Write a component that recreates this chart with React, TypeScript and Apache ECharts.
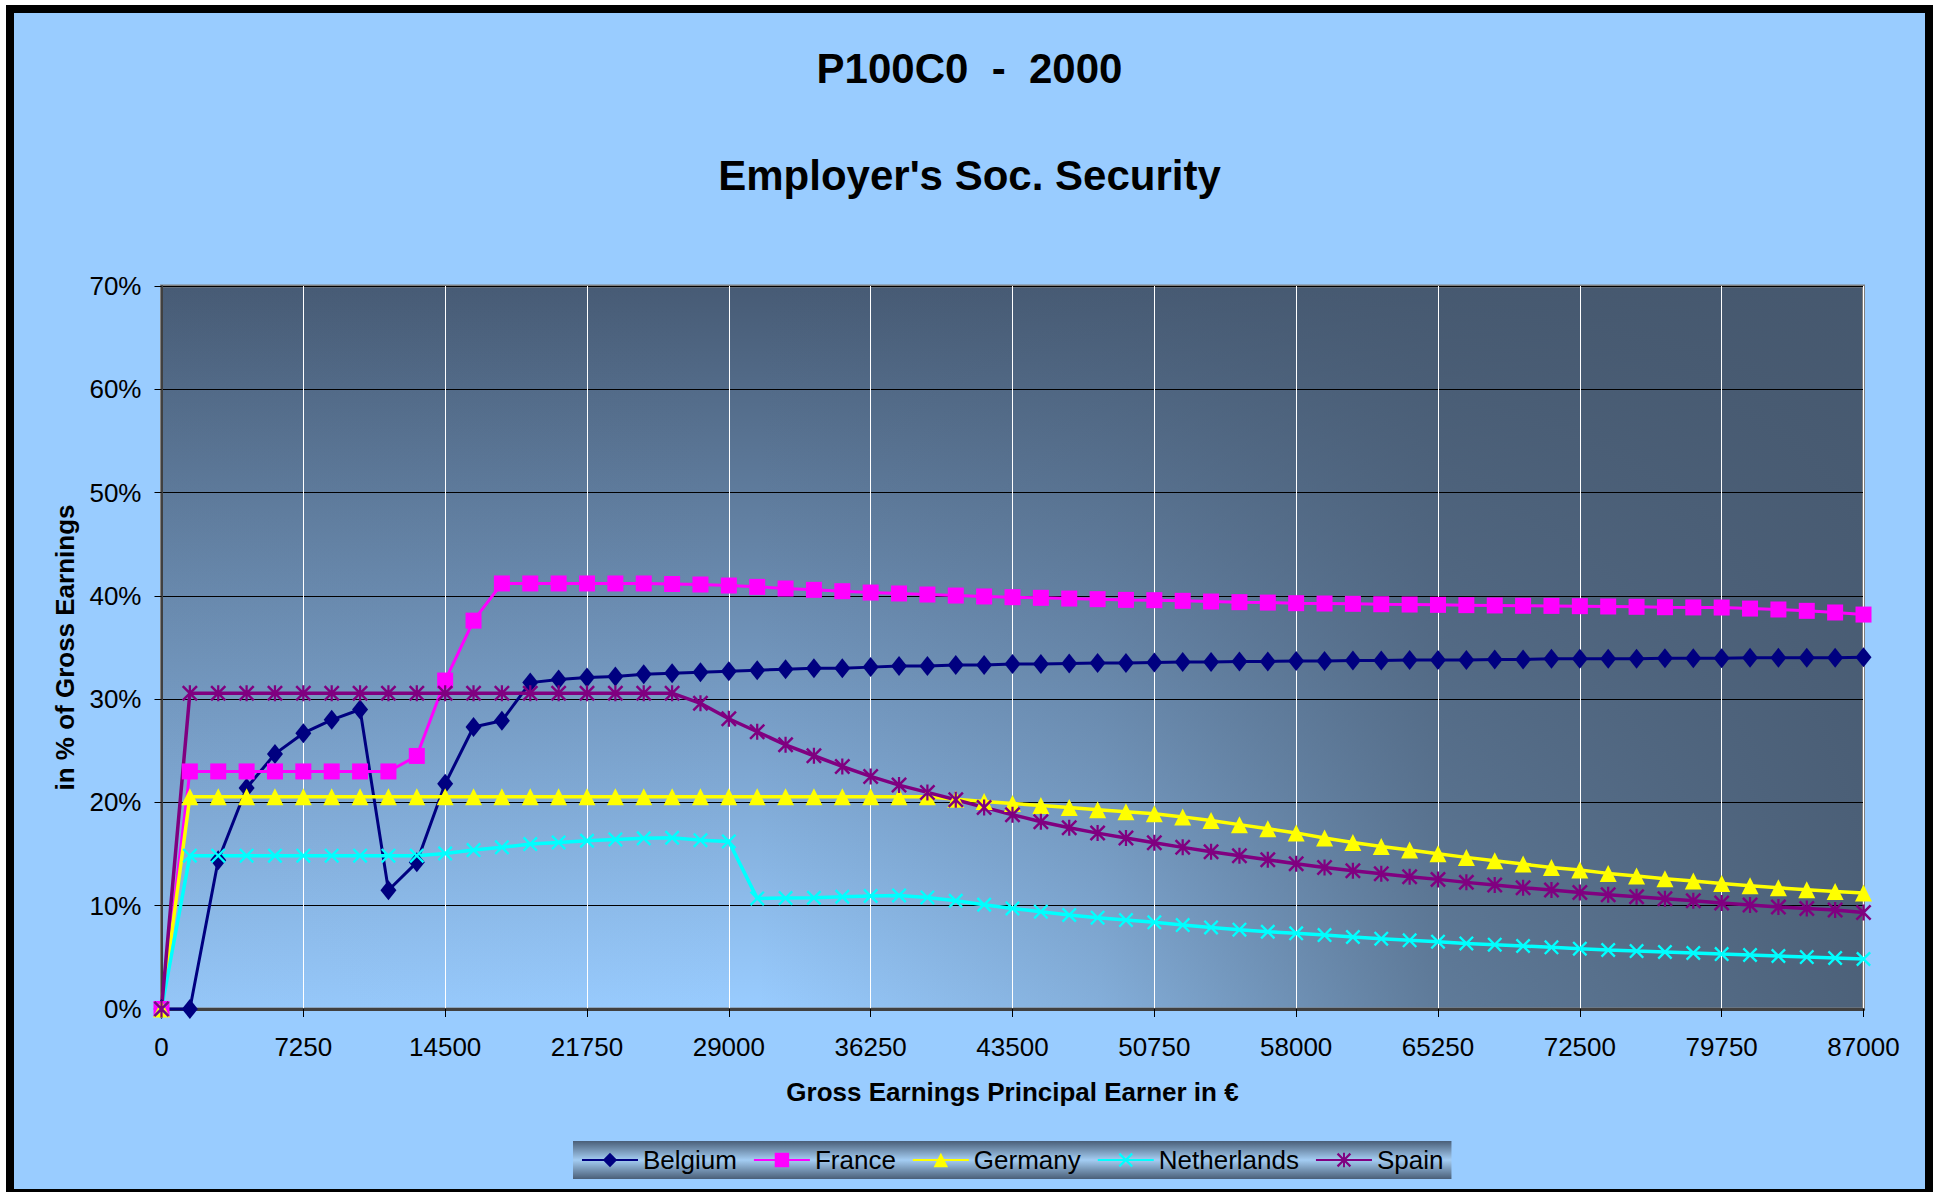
import React, { useEffect, useRef } from 'react';
import * as echarts from 'echarts';

const FONT = '"Liberation Sans", Arial, Helvetica, sans-serif';

const TITLE_MAIN = 'P100C0  -  2000';
const TITLE_SUB = "Employer's Soc. Security";
const X_NAME = 'Gross Earnings Principal Earner in €';
const Y_NAME = 'in % of Gross Earnings';

const X_MIN = 0;
const X_MAX = 87000;
const X_STEP = 7250;
const Y_MIN = 0;
const Y_MAX = 70;
const Y_STEP = 10;

const EARNINGS = [
  0, 1450, 2900, 4350, 5800, 7250, 8700, 10150, 11600, 13050,
  14500, 15950, 17400, 18850, 20300, 21750, 23200, 24650, 26100, 27550,
  29000, 30450, 31900, 33350, 34800, 36250, 37700, 39150, 40600, 42050,
  43500, 44950, 46400, 47850, 49300, 50750, 52200, 53650, 55100, 56550,
  58000, 59450, 60900, 62350, 63800, 65250, 66700, 68150, 69600, 71050,
  72500, 73950, 75400, 76850, 78300, 79750, 81200, 82650, 84100, 85550,
  87000,
];

const BELGIUM = [
  0, 0, 14.4, 21.4, 24.7, 26.7, 28.0, 29.0, 11.5, 14.2,
  21.8, 27.3, 27.9, 31.6, 31.9, 32.1, 32.2, 32.4, 32.5, 32.6,
  32.7, 32.8, 32.9, 33.0, 33.0, 33.1, 33.2, 33.2, 33.3, 33.3,
  33.4, 33.4, 33.45, 33.5, 33.5, 33.55, 33.6, 33.6, 33.65, 33.65,
  33.7, 33.7, 33.75, 33.75, 33.8, 33.8, 33.8, 33.85, 33.85, 33.9,
  33.9, 33.9, 33.9, 33.95, 33.95, 33.95, 34.0, 34.0, 34.0, 34.0,
  34.05,
];

const FRANCE = [
  0, 23.0, 23.0, 23.0, 23.0, 23.0, 23.0, 23.0, 23.0, 24.5,
  31.8, 37.6, 41.2, 41.2, 41.2, 41.2, 41.2, 41.2, 41.15, 41.1,
  41.0, 40.87, 40.71, 40.58, 40.45, 40.32, 40.23, 40.13, 40.03, 39.94,
  39.87, 39.81, 39.74, 39.68, 39.61, 39.58, 39.52, 39.45, 39.39, 39.35,
  39.29, 39.26, 39.23, 39.19, 39.16, 39.13, 39.1, 39.07, 39.04, 39.03,
  39.0, 38.97, 38.94, 38.9, 38.88, 38.87, 38.77, 38.68, 38.55, 38.39,
  38.19,
];

const GERMANY = [
  0, 20.55, 20.55, 20.55, 20.55, 20.55, 20.55, 20.55, 20.55, 20.55,
  20.55, 20.55, 20.55, 20.55, 20.55, 20.55, 20.55, 20.55, 20.55, 20.55,
  20.55, 20.55, 20.55, 20.55, 20.55, 20.55, 20.55, 20.55, 20.3, 20.1,
  19.9, 19.7, 19.5, 19.3, 19.1, 18.9, 18.6, 18.25, 17.85, 17.45,
  17.05, 16.55, 16.13, 15.74, 15.39, 15.03, 14.68, 14.35, 14.03, 13.71,
  13.45, 13.13, 12.87, 12.61, 12.39, 12.16, 11.94, 11.74, 11.55, 11.37,
  11.22,
];

const NETHERLANDS = [
  0, 14.84, 14.84, 14.84, 14.84, 14.84, 14.84, 14.84, 14.84, 14.84,
  15.06, 15.39, 15.65, 15.97, 16.13, 16.29, 16.42, 16.52, 16.58, 16.35,
  16.22, 10.71, 10.74, 10.77, 10.87, 10.94, 11.0, 10.8, 10.48, 10.1,
  9.74, 9.42, 9.1, 8.84, 8.61, 8.39, 8.13, 7.9, 7.68, 7.48,
  7.33, 7.16, 6.97, 6.81, 6.65, 6.52, 6.35, 6.23, 6.1, 5.97,
  5.84, 5.71, 5.61, 5.52, 5.42, 5.32, 5.23, 5.13, 5.03, 4.94,
  4.84,
];

const SPAIN = [
  0, 30.58, 30.58, 30.58, 30.58, 30.58, 30.58, 30.58, 30.58, 30.58,
  30.58, 30.58, 30.58, 30.58, 30.58, 30.58, 30.58, 30.58, 30.58, 29.6,
  28.1, 26.84, 25.58, 24.52, 23.48, 22.52, 21.68, 20.97, 20.26, 19.52,
  18.81, 18.13, 17.55, 17.03, 16.55, 16.1, 15.65, 15.23, 14.84, 14.45,
  14.07, 13.71, 13.39, 13.1, 12.81, 12.55, 12.26, 12.0, 11.74, 11.52,
  11.29, 11.06, 10.87, 10.68, 10.48, 10.26, 10.06, 9.87, 9.74, 9.58,
  9.35,
];

const X_PATH =
  'M0,1.1L1.1,0L5,3.9L8.9,0L10,1.1L6.1,5L10,8.9L8.9,10L5,6.1L1.1,10L0,8.9L3.9,5Z';
const STAR_PATH = X_PATH + 'M4.3,0L5.7,0L5.7,10L4.3,10Z';

const GRID = { left: 147.5, top: 273, width: 1702, height: 723 };

export default function App() {
  const ref = useRef<HTMLDivElement>(null);

  useEffect(() => {
    const chart = echarts.init(ref.current as HTMLDivElement, null, { renderer: 'svg' });

    const pairs = (vals: number[]) => EARNINGS.map((x, i) => [x, vals[i]]);

    const mk = (
      name: string,
      vals: number[],
      color: string,
      symbol: string,
      symbolSize: number | number[],
      width: number
    ) => ({
      name,
      type: 'line',
      data: pairs(vals),
      symbol,
      symbolSize,
      showSymbol: true,
      showAllSymbol: true,
      clip: false,
      z: 5,
      lineStyle: { color, width },
      itemStyle: { color, borderWidth: 0 },
      emphasis: { disabled: true },
    });

    const option: any = {
      animation: false,
      backgroundColor: '#99ccff',
      textStyle: { fontFamily: FONT },
      title: [
        {
          text: TITLE_MAIN,
          left: 'center',
          top: 29,
          textStyle: { fontFamily: FONT, fontSize: 42, fontWeight: 'bold', color: '#000' },
        },
        {
          text: TITLE_SUB,
          left: 'center',
          top: 136,
          textStyle: { fontFamily: FONT, fontSize: 42, fontWeight: 'bold', color: '#000' },
        },
      ],
      grid: {
        left: GRID.left,
        top: GRID.top,
        width: GRID.width,
        height: GRID.height,
        show: true,
        borderWidth: 0,
        backgroundColor: new echarts.graphic.LinearGradient(0, 0, 0, 1, [
          { offset: 0, color: '#475b75' },
          { offset: 1, color: '#99ccff' },
        ]),
      },
      graphic: {
        elements: [
          {
            type: 'rect',
            silent: true,
            z: 1,
            shape: { x: GRID.left, y: GRID.top, width: GRID.width, height: GRID.height },
            style: {
              fill: new echarts.graphic.LinearGradient(0, 0, 1, 0, [
                { offset: 0, color: 'rgba(70,88,110,0.05)' },
                { offset: 0.35, color: 'rgba(70,88,110,0.0)' },
                { offset: 0.55, color: 'rgba(70,88,110,0.25)' },
                { offset: 0.75, color: 'rgba(70,88,110,0.7)' },
                { offset: 1, color: 'rgba(70,88,110,0.92)' },
              ]),
            },
          },
          {
            type: 'rect',
            silent: true,
            z: 3,
            shape: { x: GRID.left, y: GRID.top, width: GRID.width, height: GRID.height },
            style: { fill: 'none', stroke: '#808080', lineWidth: 3 },
          },
        ],
      },
      legend: {
        left: 559,
        top: 1128,
        padding: [6, 8],
        itemWidth: 56,
        itemHeight: 18,
        itemGap: 16,
        backgroundColor: new echarts.graphic.LinearGradient(0, 0, 0, 1, [
          { offset: 0, color: '#4a5f78' },
          { offset: 0.5, color: '#a4cdf3' },
          { offset: 1, color: '#4a5f78' },
        ]),
        textStyle: { fontFamily: FONT, fontSize: 26, color: '#000' },
        data: ['Belgium', 'France', 'Germany', 'Netherlands', 'Spain'],
      },
      xAxis: {
        type: 'value',
        min: X_MIN,
        max: X_MAX,
        interval: X_STEP,
        z: 4,
        name: X_NAME,
        nameLocation: 'middle',
        nameGap: 70,
        nameTextStyle: { fontFamily: FONT, fontSize: 26, fontWeight: 'bold', color: '#000' },
        axisLine: { show: true, onZero: false, lineStyle: { color: '#404040', width: 3 } },
        axisTick: { show: true, length: 8, lineStyle: { color: '#000', width: 1 } },
        axisLabel: {
          margin: 25,
          fontFamily: FONT,
          fontSize: 26,
          color: '#000',
          formatter: (v: number) => String(v),
        },
        splitLine: { show: true, lineStyle: { color: '#ffffff', width: 1 } },
      },
      yAxis: {
        type: 'value',
        min: Y_MIN,
        max: Y_MAX,
        interval: Y_STEP,
        z: 4,
        name: Y_NAME,
        nameLocation: 'middle',
        nameGap: 84,
        nameTextStyle: { fontFamily: FONT, fontSize: 26, fontWeight: 'bold', color: '#000' },
        axisLine: { show: true, lineStyle: { color: '#404040', width: 2 } },
        axisTick: { show: true, length: 7, lineStyle: { color: '#000', width: 1 } },
        axisLabel: {
          margin: 20,
          fontFamily: FONT,
          fontSize: 26,
          color: '#000',
          formatter: '{value}%',
        },
        splitLine: { show: true, lineStyle: { color: '#000000', width: 1 } },
      },
      series: [
        mk('Belgium', BELGIUM, '#000080', 'diamond', [16, 20], 3),
        mk('France', FRANCE, '#ff00ff', 'rect', 16, 3),
        mk('Germany', GERMANY, '#ffff00', 'triangle', 17, 3.5),
        mk('Netherlands', NETHERLANDS, '#00ffff', 'path://' + X_PATH, 15, 3.5),
        mk('Spain', SPAIN, '#800080', 'path://' + STAR_PATH, 16, 3.5),
      ],
    };

    chart.setOption(option);
    return () => chart.dispose();
  }, []);

  return (
    <div
      style={{
        position: 'fixed',
        left: 6,
        top: 5,
        width: 1911,
        height: 1176,
        border: '8px solid #000',
        background: '#99ccff',
      }}
    >
      <div ref={ref} style={{ width: 1911, height: 1176 }} />
    </div>
  );
}
